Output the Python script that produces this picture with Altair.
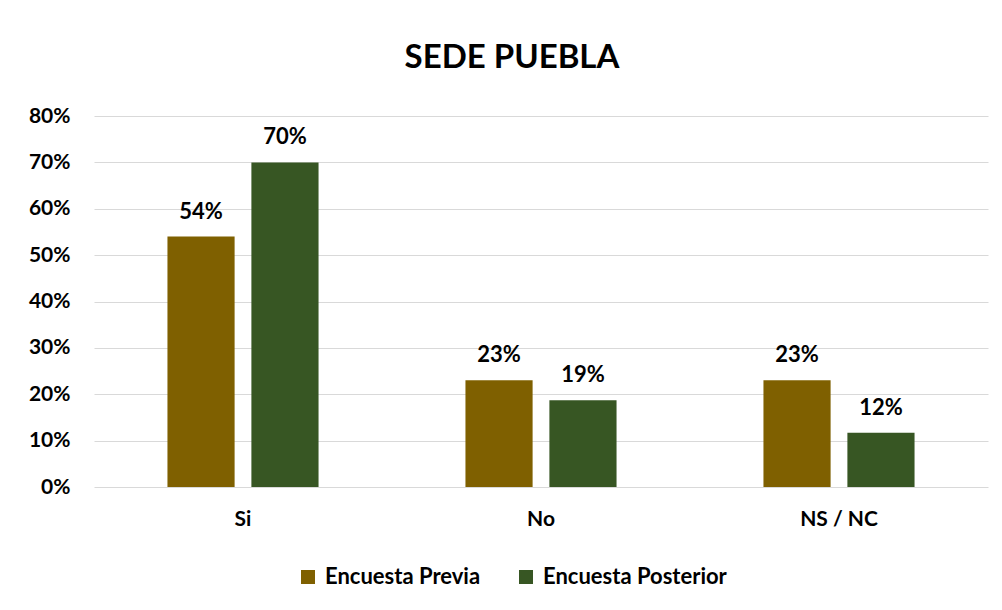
import altair as alt
import pandas as pd

categories = ["Si", "No", "NS / NC"]
series = ["Encuesta Previa", "Encuesta Posterior"]
previa = [0.54, 0.23, 0.23]
posterior = [0.70, 0.187, 0.117]
colors = ["#7F6000", "#375623"]

rows = []
for i, c in enumerate(categories):
    rows.append({"cat": c, "serie": series[0], "val": previa[i]})
    rows.append({"cat": c, "serie": series[1], "val": posterior[i]})
df = pd.DataFrame(rows)

FONT = "Lato"

base = alt.Chart(df).encode(
    x=alt.X("cat:N", sort=categories, title=None,
            scale=alt.Scale(paddingInner=0.493, paddingOuter=0.2465),
            axis=alt.Axis(labelAngle=0, labelFont=FONT, labelFontSize=21,
                          labelFontWeight="bold", labelColor="#000000",
                          labelPadding=21, ticks=False, domain=False, grid=False)),
    xOffset=alt.XOffset("serie:N", sort=series,
                        scale=alt.Scale(paddingInner=0.2, paddingOuter=0)),
)

bars = base.mark_bar().encode(
    y=alt.Y("val:Q", title=None,
            scale=alt.Scale(domain=[0, 0.8]),
            axis=alt.Axis(format=".0%", values=[i / 10 for i in range(9)],
                          labelFont=FONT, labelFontSize=21, labelFontWeight="bold",
                          labelColor="#000000", labelPadding=24,
                          ticks=False, domain=False, grid=True,
                          gridColor="#d9d9d9", gridWidth=1)),
    color=alt.Color("serie:N", sort=series,
                    scale=alt.Scale(domain=series, range=colors),
                    legend=alt.Legend(title=None, orient="none", direction="horizontal",
                                      legendX=203, legendY=450,
                                      symbolType="square", symbolSize=196,
                                      symbolStrokeWidth=0, labelFont=FONT,
                                      labelFontSize=22, labelFontWeight="bold",
                                      labelColor="#000000", labelOffset=6,
                                      labelLimit=400, columnPadding=34)),
)

labels = base.mark_text(font=FONT, fontSize=22, fontWeight="bold", color="#000000",
                        baseline="alphabetic", dy=-18).encode(
    y=alt.Y("val:Q"),
    text=alt.Text("val:Q", format=".0%"),
)

chart = alt.layer(bars, labels).properties(
    width=894, height=371,
    title=alt.TitleParams("SEDE PUEBLA", font=FONT, fontSize=33, fontWeight="bold",
                          color="#000000", anchor="middle", dx=-29, offset=30),
    autosize=alt.AutoSizeParams(type="none"),
    padding={"left": 86, "top": 108, "right": 6, "bottom": 115},
).configure_view(stroke=None)

chart.save("out.html", embed_options={"renderer": "svg", "actions": False})
